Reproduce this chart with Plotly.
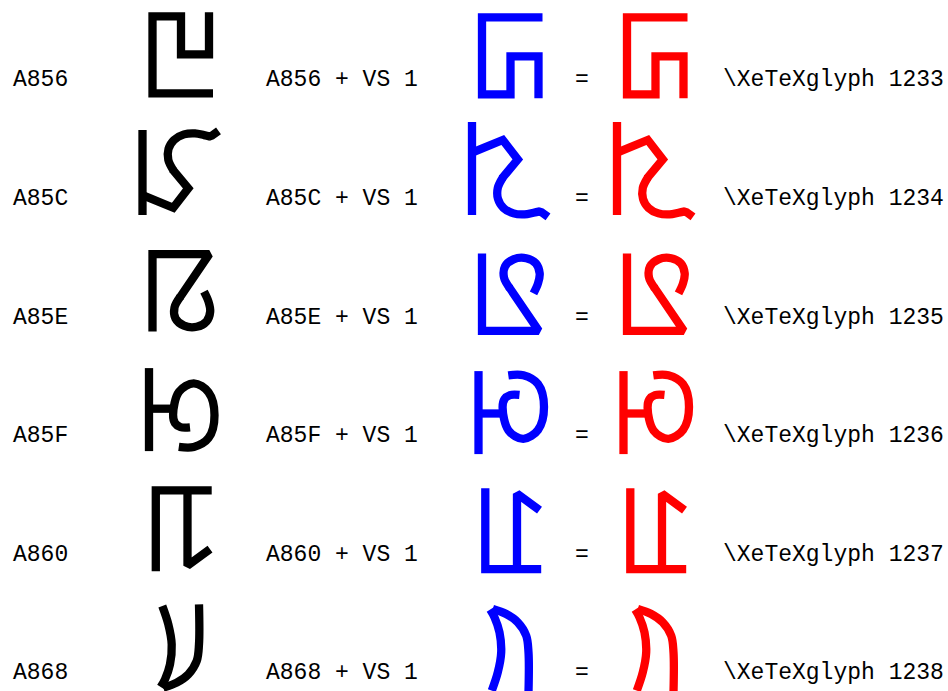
import plotly.graph_objects as go

# ---- data ----
codes = ["A856", "A85C", "A85E", "A85F", "A860", "A868"]
glyph_ids = [1233, 1234, 1235, 1236, 1237, 1238]
selector = "VS 1"

# Phags-pa glyph outlines: strokes of centre-line points (glyph units, y down),
# each flagged as straight ("L") or curved ("C")
GLYPHS = {
    "A856": [
        ("L", [(79, -43), (79, -1), (51, -1), (51, -39), (22.5, -39), (22.5, 38), (83, 38)]),
    ],
    "A85C": [
        ("L", [(12.5, -44), (12.5, 41)]),
        ("L", [(12.5, 21.2), (43.3, 33.9), (58.3, 14.5), (42.5, -4.5)]),
        ("C", [(43.5, -3.3), (38.3, -14), (38.5, -25), (44, -34), (54, -39.5),
               (65, -40.5), (74, -38.8), (80.5, -37.3)]),
        ("L", [(78.5, -37.2), (82, -38.3), (88.5, -43)]),
    ],
    "A85E": [
        ("L", [(22.5, 39.1), (22.5, -38.4), (79.3, -38.4), (49.5, 5.5)]),
        ("C", [(50.3, 4.3), (44.5, 15), (45.5, 26), (54, 33.2), (66.7, 34.3),
               (76.5, 29), (80.2, 19), (78.5, 9.1), (74, -0.9)]),
    ],
    "A85F": [
        ("L", [(19, -43), (19, 40)]),
        ("L", [(19, -2.4), (44, -2.4)]),
        ("C", [(48.8, 35.7), (63.8, 35.8), (78.5, 27), (84.5, 4.1), (78.5, -18.8),
               (63.8, -27.8), (49, -19.3), (43.1, 3.5), (45, 12), (50.5, 16), (60, 16.2)]),
    ],
    "A860": [
        ("L", [(25.8, 41.5), (25.8, -39.4), (81.7, -39.4)]),
        ("L", [(57.5, -39.4), (57.5, 36), (80, 19.5)]),
    ],
    "A868": [
        ("C", [(32.3, -42.3), (38.3, -24), (41.7, -4), (40, 16), (35, 31), (30.7, 38.7)]),
        ("C", [(69, -44), (69, -4), (66.7, 12.7), (58.3, 26), (46.7, 34.3), (33.3, 39.3)]),
    ],
}


def variant(code):
    strokes = [(k, [(x, -y) for (x, y) in s]) for (k, s) in GLYPHS[code]]
    if code == "A85C":
        strokes[0] = ("L", [(12.5, -52), (12.5, 41)])
    return strokes


# ---- layout constants ----
W, H = 948, 691
row_y0, row_dy = 80.3, 118.6
glyph_dy = -25
col_black, col_blue, col_red = 130, 459.5, 604.5
stroke_w = 8.3
font = dict(family="Liberation Mono", size=23, color="black")

fig = go.Figure()


def add_glyph(strokes, x0, y0, color):
    for kind, s in strokes:
        fig.add_trace(go.Scatter(
            x=[x0 + p[0] for p in s], y=[y0 + p[1] for p in s], mode="lines",
            line=dict(color=color, width=stroke_w,
                      shape="spline" if kind == "C" else "linear", smoothing=1.0),
            hoverinfo="skip", showlegend=False))


annotations = []
for i, (code, gid) in enumerate(zip(codes, glyph_ids)):
    ty = row_y0 + i * row_dy
    gy = ty + glyph_dy
    add_glyph(GLYPHS[code], col_black, gy, "#000000")
    add_glyph(variant(code), col_blue, gy, "#0000ff")
    add_glyph(variant(code), col_red, gy, "#ff0000")
    for txt, x, anchor in [
        (code, 11, "left"),
        (f"{code} + {selector}", 264, "left"),
        ("=", 582, "center"),
        (f"\\XeTeXglyph {gid}", 721, "left"),
    ]:
        annotations.append(dict(x=x, y=ty, xref="x", yref="y", text=txt,
                                showarrow=False, xanchor=anchor, yanchor="middle",
                                font=font))

fig.update_layout(
    width=W, height=H,
    margin=dict(l=0, r=0, t=0, b=0),
    paper_bgcolor="white", plot_bgcolor="white",
    xaxis=dict(range=[0, W], visible=False, fixedrange=True),
    yaxis=dict(range=[H, 0], visible=False, fixedrange=True),
    annotations=annotations,
    showlegend=False,
)

fig.write_html("out.html", config={"displayModeBar": False},
               post_script="document.body.style.margin='0';"
                           "document.body.style.overflow='hidden';")
